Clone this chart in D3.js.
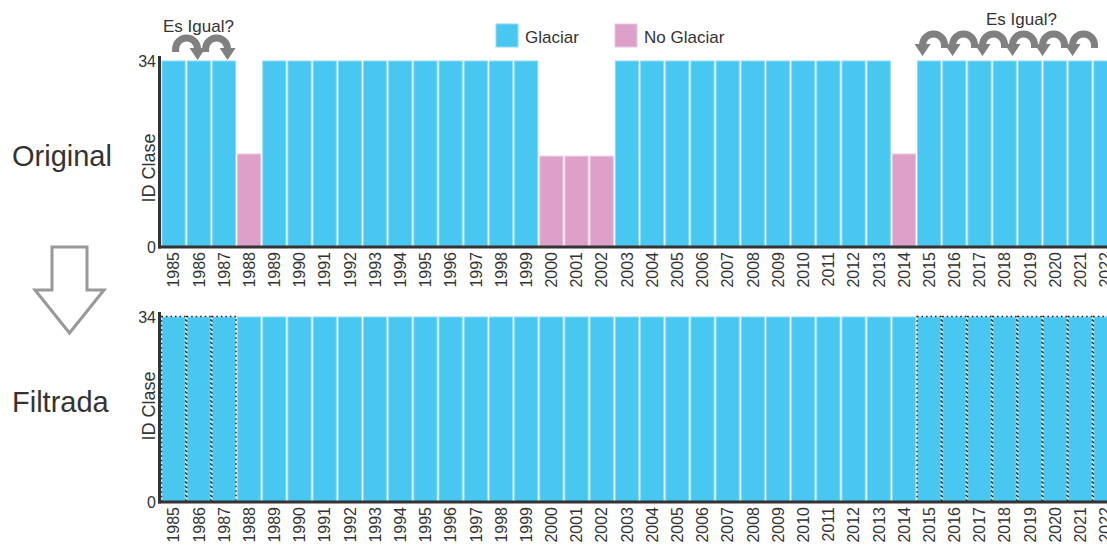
<!DOCTYPE html>
<html>
<head>
<script src="https://d3js.org/d3.v7.min.js"></script>
<style>
    body { margin: 0; background: #fff; }
    text { font-family: "Liberation Sans", Arial, sans-serif; fill: #333; }
    .axis path, .axis line { display: none; }
</style>
</head>
<body>
<svg width="1107" height="546"></svg>
<script>
var years = d3.range(1985, 2023);
// clase original (34 = glaciar, el resto = no glaciar)
var original = [34, 34, 34, 17, 34, 34, 34, 34, 34, 34, 34, 34, 34, 34, 34,
    16.6, 16.6, 16.6, 34, 34, 34, 34, 34, 34, 34, 34, 34, 34, 34, 17,
    34, 34, 34, 34, 34, 34, 34, 34];
var filtrada = years.map(function () { return 34; });
var checkedYears = [1985, 1986, 1987, 2015, 2016, 2017, 2018, 2019, 2020, 2021, 2022];
var yTicks = [0, 34];
var legendLabels = ["Glaciar", "No Glaciar"];
var colors = {glaciar: "#48c7f1", noGlaciar: "#dca0c9"};

var svg = d3.select("svg");

var x = d3.scaleBand().domain(years).range([161, 1118])
    .paddingInner(0.08).paddingOuter(0.04);

var panels = [
    {name: "Original", values: original, y: d3.scaleLinear().domain([0, 34]).range([247, 61]),
        labelY: 166, idY: 168, top: 56},
    {name: "Filtrada", values: filtrada, y: d3.scaleLinear().domain([0, 34]).range([502, 317]),
        labelY: 412, idY: 406, top: 312}
];

panels.forEach(function (p, pi) {
    var g = svg.append("g");

    g.selectAll("rect.bar")
        .data(years.map(function (yr, i) { return {year: yr, v: p.values[i]}; }))
        .enter().append("rect")
        .attr("class", "bar")
        .attr("x", function (d) { return x(d.year); })
        .attr("width", x.bandwidth())
        .attr("y", function (d) { return p.y(d.v); })
        .attr("height", function (d) { return p.y(0) - p.y(d.v); })
        .attr("fill", function (d) { return d.v >= 34 ? colors.glaciar : colors.noGlaciar; })
        .attr("stroke", function (d) { return d.v >= 34 ? "#8fdaf6" : "#ebc6df"; })
        .attr("stroke-width", 1);

    if (pi === 1) {
        g.selectAll("rect.chk")
            .data(checkedYears)
            .enter().append("rect")
            .attr("class", "chk")
            .attr("x", function (d) { return x(d) - 0.5; })
            .attr("width", x.bandwidth() + 1)
            .attr("y", p.y(34) - 0.5)
            .attr("height", p.y(0) - p.y(34) + 0.5)
            .attr("fill", "none")
            .attr("stroke", "#222")
            .attr("stroke-width", 1.5)
            .attr("stroke-dasharray", "1.5,3");
    }

    // ejes
    g.append("line")
        .attr("x1", 159.5).attr("x2", 159.5)
        .attr("y1", p.top).attr("y2", p.y(0) + 1.5)
        .attr("stroke", "#333").attr("stroke-width", 3);
    g.append("line")
        .attr("x1", 158).attr("x2", 1107)
        .attr("y1", p.y(0)).attr("y2", p.y(0))
        .attr("stroke", "#333").attr("stroke-width", 3);

    g.append("g")
        .attr("class", "axis")
        .attr("transform", "translate(156,0)")
        .call(d3.axisLeft(p.y).tickValues(yTicks).tickSize(0).tickPadding(0))
        .selectAll("text")
        .style("font-size", "16px")
        .attr("font-family", null);

    g.append("g")
        .attr("class", "axis")
        .attr("transform", "translate(0," + p.y(0) + ")")
        .call(d3.axisBottom(x).tickSize(0))
        .selectAll("text")
        .style("font-size", "16px")
        .attr("font-family", null)
        .attr("transform", "rotate(-90)")
        .attr("text-anchor", "end")
        .attr("x", -5)
        .attr("y", 0)
        .attr("dy", "0.36em");

    g.append("text")
        .attr("transform", "translate(155," + p.idY + ") rotate(-90)")
        .attr("text-anchor", "middle")
        .style("font-size", "18px")
        .text("ID Clase");

    g.append("text")
        .attr("x", 12).attr("y", p.labelY)
        .style("font-size", "29px")
        .text(p.name);
});

// leyenda
var legend = svg.append("g");
[[496, colors.glaciar, "#8fdaf6"], [615, colors.noGlaciar, "#ebc6df"]].forEach(function (l, i) {
    legend.append("rect").attr("x", l[0]).attr("y", 24).attr("width", 22).attr("height", 23)
        .attr("fill", l[1]).attr("stroke", l[2]);
    legend.append("text").attr("x", l[0] + 29).attr("y", 43)
        .style("font-size", "17px").text(legendLabels[i]);
});

// flecha hueca hacia abajo
svg.append("path")
    .attr("d", "M52,247 L87,247 L87,290 L104,290 L69.5,333 L35,290 L52,290 Z")
    .attr("fill", "none").attr("stroke", "#999").attr("stroke-width", 3);

// flechas curvas "Es Igual?"
function curved(tail, tip, cy) {
    var r = Math.abs(tip - tail) / 2;
    var sweep = tip > tail ? 1 : 0;
    svg.append("path")
        .attr("d", "M" + tail + "," + (cy + 3) + " L" + tail + "," + cy +
            " A" + r + "," + r + " 0 0 " + sweep + " " + tip + "," + cy)
        .attr("fill", "none").attr("stroke", "#808080").attr("stroke-width", 7);
    svg.append("path")
        .attr("d", "M" + (tip - 8) + "," + (cy - 1) + " L" + (tip + 8) + "," + (cy - 1) +
            " L" + tip + "," + (cy + 11) + " Z")
        .attr("fill", "#808080");
}

svg.append("text").attr("x", 163).attr("y", 32).style("font-size", "17px").text("Es Igual?");
[0, 1].forEach(function (i) {
    var tail = x(1985) + x.bandwidth() / 2 + 2 + i * 30;
    curved(tail, tail + 22, 49);
});

svg.append("text").attr("x", 986).attr("y", 25).style("font-size", "17px").text("Es Igual?");
d3.range(6).forEach(function (i) {
    var tip = x(2015) + 5 + i * 30;
    curved(tip + 22, tip, 45);
});
</script>
</body>
</html>
